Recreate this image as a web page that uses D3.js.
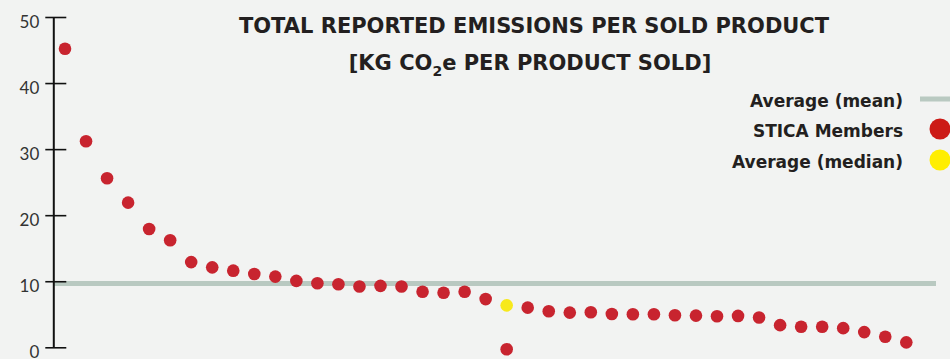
<!DOCTYPE html>
<html lang="en">
<head>
  <meta charset="UTF-8">
  <title>Total reported emissions per sold product</title>
  <script src="https://cdn.jsdelivr.net/npm/d3@7"></script>
  <style>
    body { margin: 0; background: #f2f3f2; }
    svg { display: block; }
  </style>
</head>
<body>
  <svg width="950" height="359"></svg>
  <script>
    // kg CO2e per product sold, one value per STICA member (sorted)
    var memberValues = [45.2, 31.2, 25.6, 21.9, 17.9, 16.2, 12.9, 12.1, 11.6, 11.1,
      10.7, 10.05, 9.7, 9.55, 9.2, 9.3, 9.2, 8.4, 8.25, 8.4,
      7.3, -0.3, 6.0, 5.45, 5.25, 5.3, 5.05, 5.0, 5.0, 4.85,
      4.8, 4.7, 4.75, 4.5, 3.35, 3.1, 3.1, 2.9, 2.3, 1.6, 0.75];
    var medianIndex = 21;
    var medianValue = 6.35;
    var meanValue = 9.65;
    var yTicks = [0, 10, 20, 30, 40, 50];
    var legendLabels = ['Average (mean)', 'STICA Members', 'Average (median)'];

    var svg = d3.select('svg');
    var font = 'Lato, "Open Sans", sans-serif';
    var boldFont = '"DejaVu Sans", Lato, sans-serif';

    var yScale = d3.scaleLinear().domain([0, 50]).range([347.3, 17]);
    var xScale = d3.scaleLinear().domain([0, memberValues.length - 1]).range([65, 906.3]);

    // mean line
    svg.append('line')
      .attr('x1', 53).attr('x2', 936)
      .attr('y1', yScale(meanValue)).attr('y2', yScale(meanValue))
      .attr('stroke', '#b9c9c1')
      .attr('stroke-width', 5);

    // y axis
    var axis = svg.append('g')
      .attr('transform', 'translate(53.3,0)')
      .call(d3.axisLeft(yScale).tickValues(yTicks).tickSize(8).tickSizeOuter(0).tickPadding(6));
    axis.select('.domain').attr('stroke', '#111').attr('stroke-width', 2);
    axis.selectAll('.tick line').attr('x2', 13).attr('x1', -8).attr('stroke', '#111').attr('stroke-width', 1.6);
    axis.selectAll('.tick text')
      .attr('x', -14)
      .attr('dy', '0.62em')
      .attr('fill', '#333')
      .style('font-family', font)
      .style('font-size', '17px');

    // member dots
    svg.append('g').selectAll('circle')
      .data(memberValues)
      .join('circle')
      .attr('cx', function(d, i) { return xScale(i); })
      .attr('cy', function(d) { return yScale(d); })
      .attr('r', 6.3)
      .attr('fill', '#c8242f');

    // median dot
    svg.append('circle')
      .attr('cx', xScale(medianIndex))
      .attr('cy', yScale(medianValue))
      .attr('r', 6.3)
      .attr('fill', '#f7e91c');

    // title
    var title = svg.append('text')
      .attr('text-anchor', 'middle')
      .attr('fill', '#231f20')
      .style('font-family', boldFont)
      .style('font-weight', 'bold')
      .style('font-size', '21px');
    title.append('tspan').attr('x', 534).attr('y', 33)
      .text('TOTAL REPORTED EMISSIONS PER SOLD PRODUCT');
    var line2 = title.append('tspan').attr('x', 530).attr('y', 70);
    line2.text('[KG CO');
    title.append('tspan').attr('dy', 6).style('font-size', '14px').text('2');
    title.append('tspan').attr('dy', -6).text('e PER PRODUCT SOLD]');

    // legend
    var legend = svg.append('g');
    var rows = [101, 131, 162];
    legend.selectAll('text')
      .data(legendLabels)
      .join('text')
      .attr('x', 903)
      .attr('y', function(d, i) { return rows[i]; })
      .attr('dy', '0.35em')
      .attr('text-anchor', 'end')
      .attr('fill', '#231f20')
      .style('font-family', boldFont)
      .style('font-weight', 'bold')
      .style('font-size', '17px')
      .text(function(d) { return d; });
    legend.append('line')
      .attr('x1', 920).attr('x2', 950)
      .attr('y1', rows[0] - 2).attr('y2', rows[0] - 2)
      .attr('stroke', '#b9c9c1').attr('stroke-width', 5);
    legend.append('circle').attr('cx', 940).attr('cy', rows[1] - 2).attr('r', 10.5).attr('fill', '#cc1a16');
    legend.append('circle').attr('cx', 940).attr('cy', rows[2] - 2).attr('r', 10.5).attr('fill', '#ffee00');
  </script>
</body>
</html>
